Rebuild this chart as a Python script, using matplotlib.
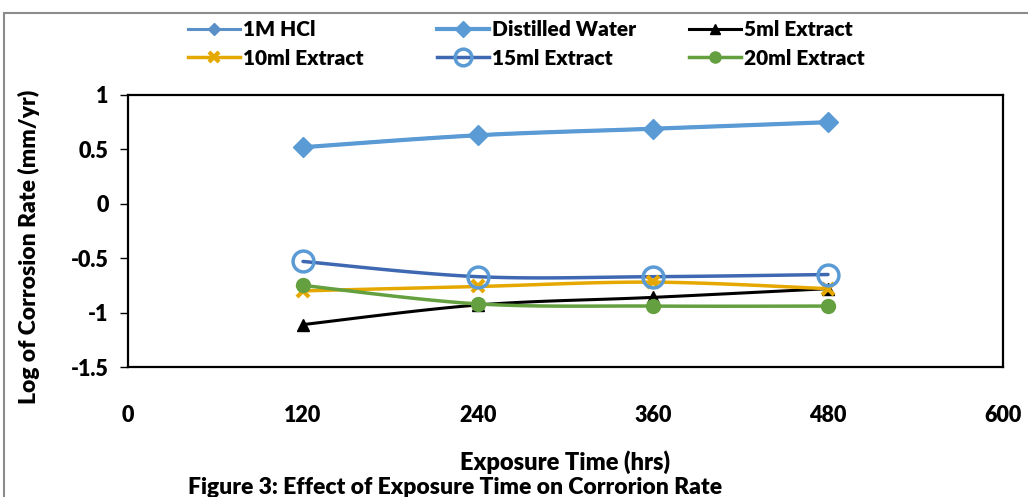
import numpy as np
import matplotlib
matplotlib.use("Agg")
import matplotlib.pyplot as plt
from matplotlib.lines import Line2D
from matplotlib.patches import Rectangle

# ---- data ----
hours = [120, 240, 360, 480]
hcl_1m = [0.52, 0.63, 0.69, 0.75]
distilled_water = [0.52, 0.63, 0.69, 0.75]
extract_5ml = [-1.11, -0.93, -0.86, -0.78]
extract_10ml = [-0.80, -0.76, -0.72, -0.78]
extract_15ml = [-0.53, -0.67, -0.67, -0.65]
extract_20ml = [-0.75, -0.92, -0.94, -0.94]
x_ticks = [0, 120, 240, 360, 480, 600]
y_ticks = [-1.5, -1, -0.5, 0, 0.5, 1]
y_tick_labels = ["-1.5", "-1", "-0.5", "0", "0.5", "1"]

plt.rcParams['font.family'] = ['Lato', 'DejaVu Sans']
plt.rcParams['font.weight'] = 'heavy'
plt.rcParams['axes.unicode_minus'] = False
W = 'heavy'


def smooth(xs, ys, n=30):
    """Catmull-Rom style smoothing (like Excel's smoothed line) for drawing."""
    xs = np.asarray(xs, float); ys = np.asarray(ys, float)
    px = np.concatenate([[xs[0]], xs, [xs[-1]]])
    py = np.concatenate([[ys[0]], ys, [ys[-1]]])
    outx, outy = [], []
    for i in range(1, len(px) - 2):
        p0 = np.array([px[i - 1], py[i - 1]]); p1 = np.array([px[i], py[i]])
        p2 = np.array([px[i + 1], py[i + 1]]); p3 = np.array([px[i + 2], py[i + 2]])
        c1 = p1 + (p2 - p0) / 6.0
        c2 = p2 - (p3 - p1) / 6.0
        t = np.linspace(0, 1, n)[:, None]
        b = ((1 - t) ** 3) * p1 + 3 * ((1 - t) ** 2) * t * c1 + 3 * (1 - t) * t ** 2 * c2 + t ** 3 * p2
        outx.extend(b[:, 0]); outy.extend(b[:, 1])
    return outx, outy


fig = plt.figure(figsize=(10.28, 4.97), dpi=100)
ax = fig.add_axes([128 / 1028, 1 - 367 / 497, (1003 - 128) / 1028, (367 - 95) / 497])

series = [
    ("1M HCl", hcl_1m, dict(color="#5A8FC8", marker="D", ms=8, mfc="#5A8FC8", mec="#5A8FC8", lw=2.2)),
    ("Distilled Water", distilled_water, dict(color="#5B9BD5", marker="D", ms=10, mfc="#5B9BD5", mec="#5B9BD5", lw=3)),
    ("5ml Extract", extract_5ml, dict(color="black", marker="^", ms=9, mfc="black", mec="black", lw=2.2)),
    ("10ml Extract", extract_10ml, dict(color="#E5A800", marker="x", ms=9, mfc="#E5A800", mec="#E5A800", mew=3, lw=2.5)),
    ("15ml Extract", extract_15ml, dict(color="#3F68B2", marker="o", ms=15, mfc="none", mec="#5B9BD5", mew=2.5, lw=2.5)),
    ("20ml Extract", extract_20ml, dict(color="#64A03F", marker="o", ms=10, mfc="#64A03F", mec="#64A03F", lw=2.5)),
]

handles = []
for name, vals, st in series:
    sx, sy = smooth(hours, vals)
    ax.plot(sx, sy, color=st["color"], lw=st["lw"], solid_capstyle="round", zorder=3)
    ax.plot(hours, vals, ls="none", marker=st["marker"], ms=st["ms"], mfc=st["mfc"],
            mec=st["mec"], mew=st.get("mew", 1), zorder=4)
    handles.append(Line2D([], [], color=st["color"], lw=st["lw"], marker=st["marker"],
                          ms=st["ms"] * 0.8, mfc=st["mfc"], mec=st["mec"], mew=st.get("mew", 1)))

ax.set_xlim(0, 600)
ax.set_ylim(-1.5, 1)
ax.set_xticks(x_ticks)
ax.set_yticks(y_ticks)
ax.set_yticklabels(y_tick_labels)
for s in ax.spines.values():
    s.set_linewidth(1.6)
    s.set_color("black")
ax.tick_params(axis="y", direction="out", length=6, width=1, labelsize=15.5, pad=8)
ax.tick_params(axis="x", direction="out", length=0, width=1, labelsize=15.5, pad=27)
for lab in ax.get_xticklabels() + ax.get_yticklabels():
    lab.set_fontweight(W)

ax.set_ylabel("Log of Corrosion Rate (mm/yr)", fontsize=16.5, fontweight=W)
ax.yaxis.set_label_coords(-0.101, 0.44)
fig.text(565 / 1028, 1 - 462 / 497, "Exposure Time (hrs)", ha="center", va="center",
         fontsize=17, fontweight=W)
fig.text(455 / 1028, 1 - 487 / 497, "Figure 3: Effect of Exposure Time on Corrorion Rate",
         ha="center", va="center", fontsize=16.5, fontweight=W)

# legend: three columns placed separately
col_x = [184, 433, 685]
for c in range(3):
    hs = [handles[c], handles[c + 3]]
    ls = [series[c][0], series[c + 3][0]]
    leg = fig.legend(hs, ls, loc="upper left", bbox_to_anchor=(col_x[c] / 1028, 1 - 16 / 497),
                     frameon=False, fontsize=15, handlelength=2.5, handletextpad=0.15,
                     labelspacing=0.45, borderpad=0.2, borderaxespad=0)
    for t in leg.get_texts():
        t.set_fontweight(W)

# outer chart border
fig.patches.append(Rectangle((4 / 1028, -0.1), 1.2, (497 - 13) / 497 + 0.1,
                             transform=fig.transFigure, fill=False, ec="#8C8C8C", lw=1.5))

fig.savefig("out.png", dpi=100)
